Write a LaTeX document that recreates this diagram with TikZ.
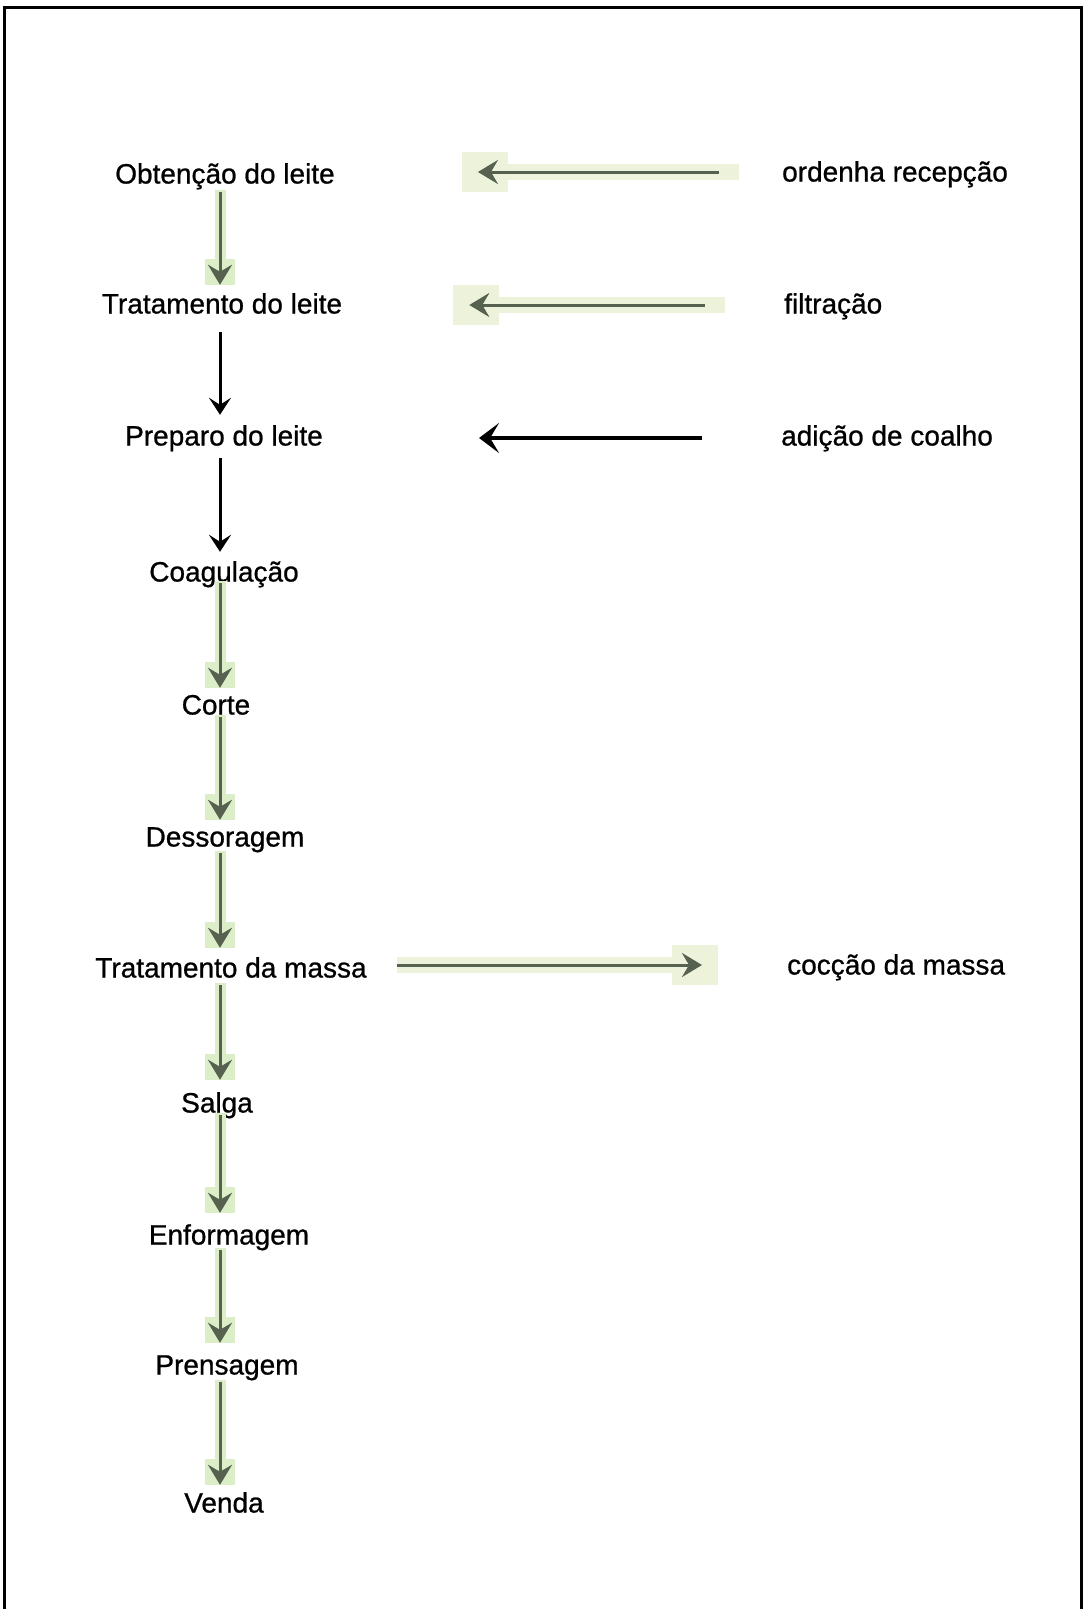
\documentclass[tikz,border=0pt]{standalone}
\usepackage{fontspec}
\setmainfont[FakeBold=0.8]{Liberation Sans}
\usetikzlibrary{arrows.meta,calc}
\definecolor{arrg}{HTML}{56614F}
\definecolor{hlv}{HTML}{DCEEC8}
\definecolor{hlh}{HTML}{EDF2DA}
\tikzset{
  lbl/.style={font=\fontsize{28}{30}\selectfont, inner sep=0pt, text height=20pt, text depth=5pt},
  lblL/.style={lbl, anchor=center},
  lblR/.style={lbl, anchor=west},
  blackarr/.style={draw=black, line width=3pt, -{Stealth[length=17pt,width=22pt,inset=7pt]}},
  blackharr/.style={draw=black, line width=3.5pt, -{Stealth[length=20pt,width=30pt,inset=9pt]}},
  greenarr/.style={draw=arrg, line width=3pt, -{Stealth[length=20pt,width=24pt,inset=7pt]}},
  hlvert/.style={draw=hlv, line width=11pt},
  hlhor/.style={draw=hlh, line width=16pt},
  frameline/.style={draw=black, line width=3pt}
}
\begin{document}
\begin{tikzpicture}[x=1pt,y=-1pt]
\useasboundingbox (0,0) rectangle (1085,1609);
\fill[white] (0,0) rectangle (1085,1609);
% frame
\coordinate (fTL) at (4,7);
\coordinate (fTR) at (1081,7);
\coordinate (fBL) at (4,1609);
\coordinate (fBR) at (1081,1609);
\draw[frameline] (fBL) -- (fTL) -- (fTR) -- (fBR);

% labels
\node[lblL] (obt) at (225,176) {Obtenção do leite};
\node[lblR] (ord) at (782,174) {ordenha recepção};
\node[lblL] (trl) at (222,306) {Tratamento do leite};
\node[lblR] (fil) at (784,306) {filtração};
\node[lblL] (pre) at (224,438) {Preparo do leite};
\node[lblR] (coa) at (781,438) {adição de coalho};
\node[lblL] (coag) at (224,574) {Coagulação};
\node[lblL] (corte) at (216,707) {Corte};
\node[lblL] (des) at (225,839) {Dessoragem};
\node[lblL] (tdm) at (231,970) {Tratamento da massa};
\node[lblR] (coc) at (787,967) {cocção da massa};
\node[lblL] (salga) at (217,1105) {Salga};
\node[lblL] (enf) at (229,1237) {Enformagem};
\node[lblL] (pren) at (227,1367) {Prensagem};
\node[lblL] (venda) at (224,1505) {Venda};

\coordinate (ax) at (220,0);

% green vertical arrows with highlight
\foreach \a/\b/\s/\e in {obt/trl/3.5/8.5, coag/corte/-3.5/6.5, corte/des/-2.5/6.5, des/tdm/1.5/9.5, tdm/salga/2.5/12.5, salga/enf/-2.5/11.5, enf/pren/0.5/11.5, pren/venda/2.5/7.5}{
  \coordinate (s) at ($(\a.south -| ax)+(0,\s)$);
  \coordinate (t) at ($(\b.north -| ax)+(0,-\e)$);
  \fill[hlv] ($(t)+(-15,-26)$) rectangle ($(t)+(15,0)$);
  \draw[hlvert] ($(s)+(0,-2)$) -- (t);
  \draw[greenarr] (s) -- (t);
}

% black vertical arrows
\draw[blackarr] ($(trl.south -| ax)+(0,13.5)$) -- ($(pre.north -| ax)+(0,-10.5)$);
\draw[blackarr] ($(pre.south -| ax)+(0,7.5)$) -- ($(coag.north -| ax)+(0,-9.5)$);

% ordenha -> obtencao
\coordinate (o1) at ($(ord.west)+(-63,-2)$);
\coordinate (o2) at ($(obt.east)+(143,-4)$);
\fill[hlh] ($(o2)+(-16,-20)$) rectangle ($(o2)+(30,20)$);
\draw[hlhor] ($(o1)+(20,0)$) -- (o2);
\draw[greenarr] (o1) -- (o2);

% filtracao -> tratamento do leite
\coordinate (f1) at ($(fil.west)+(-79,-1)$);
\coordinate (f2) at ($(trl.east)+(127,-1)$);
\fill[hlh] ($(f2)+(-16,-20)$) rectangle ($(f2)+(30,20)$);
\draw[hlhor] ($(f1)+(20,0)$) -- (f2);
\draw[greenarr] (f1) -- (f2);

% adicao de coalho -> preparo
\draw[blackharr] ($(coa.west)+(-79,0)$) -- ($(pre.east)+(156,0)$);

% tratamento da massa -> coccao
\coordinate (c1) at ($(tdm.east)+(30,-5)$);
\coordinate (c2) at ($(coc.west)+(-85,-2)$);
\fill[hlh] ($(c2)+(-30,-20)$) rectangle ($(c2)+(16,20)$);
\draw[hlhor] (c1) -- (c2);
\draw[greenarr] (c1) -- (c2);
\end{tikzpicture}
\end{document}
